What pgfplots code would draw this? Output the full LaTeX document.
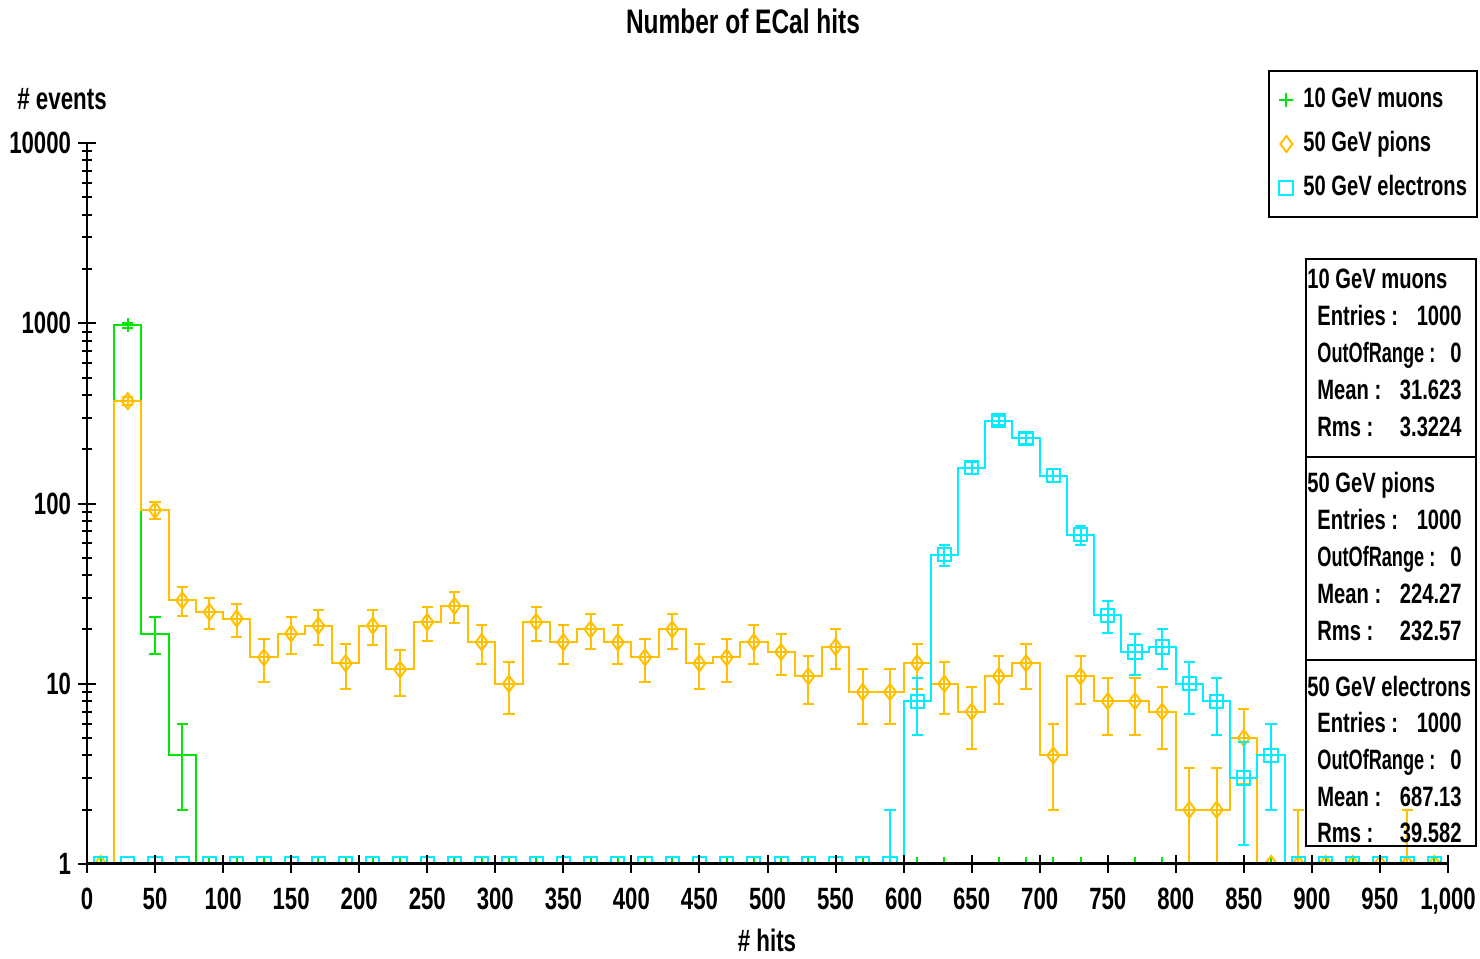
\documentclass[border=0pt]{standalone}
\usepackage{graphicx}
\usepackage{pgfplots}
\pgfplotsset{compat=1.18}
\usepackage{pgfplotstable}
\usepackage{fontspec}
\setmainfont{Liberation Sans}[FakeStretch=0.72]

\definecolor{mugreen}{RGB}{0,230,0}
\definecolor{piorange}{RGB}{255,192,0}
\definecolor{ecyan}{RGB}{0,238,255}

\newcommand\tickfont{\fontsize{15.4}{17}\selectfont\bfseries}
\newcommand\titlefont{\fontsize{17}{19}\selectfont\bfseries}
\newcommand\labfont{\fontsize{15.5}{17}\selectfont\bfseries}
\newcommand\legfont{\fontsize{14}{16}\selectfont\bfseries}

\pgfplotstableread{
x n
10 0
30 977
50 19
70 4
90 0
110 0
130 0
150 0
170 0
190 0
210 0
230 0
250 0
270 0
290 0
310 0
330 0
350 0
370 0
390 0
410 0
430 0
450 0
470 0
490 0
510 0
530 0
550 0
570 0
590 0
610 0
630 0
650 0
670 0
690 0
710 0
730 0
750 0
770 0
790 0
810 0
830 0
850 0
870 0
890 0
910 0
930 0
950 0
970 0
990 0
}\muons

\pgfplotstableread{
x n
10 0
30 370
50 92
70 29
90 25
110 23
130 14
150 19
170 21
190 13
210 21
230 12
250 22
270 27
290 17
310 10
330 22
350 17
370 20
390 17
410 14
430 20
450 13
470 14
490 17
510 15
530 11
550 16
570 9
590 9
610 13
630 10
650 7
670 11
690 13
710 4
730 11
750 8
770 8
790 7
810 2
830 2
850 5
870 0
890 1
910 0
930 0
950 0
970 1
990 0
}\pions

\pgfplotstableread{
x n
10 0
30 0
50 0
70 0
90 0
110 0
130 0
150 0
170 0
190 0
210 0
230 0
250 0
270 0
290 0
310 0
330 0
350 0
370 0
390 0
410 0
430 0
450 0
470 0
490 0
510 0
530 0
550 0
570 0
590 1
610 8
630 52
650 158
670 288
690 230
710 143
730 67
750 24
770 15
790 16
810 10
830 8
850 3
870 4
890 0
910 0
930 0
950 0
970 0
990 0
}\electrons

\pgfplotsset{
  steps/.style={forget plot, line width=1pt, const plot mark mid},
  pts/.style={forget plot, line width=1pt, only marks,
    error bars/y dir=both, error bars/y explicit,
    error bars/error bar style={line width=1pt},
    error bars/error mark options={rotate=90, mark size=2.8pt, line width=1pt}},
  zeros/.style={forget plot, line width=1pt, only marks},
}

\begin{document}
\begin{tikzpicture}
\useasboundingbox (0,0) rectangle (740pt,479.5pt);
\begin{axis}[
  at={(43.5pt,47.5pt)}, anchor=south west,
  scale only axis, width=680.5pt, height=360.5pt,
  xmin=0, xmax=1000, ymin=1, ymax=10000, ymode=log,
  axis x line*=bottom, axis y line*=left,
  x axis line style={line width=1.5pt},
  y axis line style={line width=1pt},
  axis on top,
  clip marker paths=true,
  xtick={0,50,...,1000},
  xticklabels={0,50,100,150,200,250,300,350,400,450,500,550,600,650,700,750,800,850,900,950,{1,000}},
  ytick={1,10,100,1000,10000},
  yticklabels={1,10,100,1000,10000},
  minor ytick={2,3,4,5,6,7,8,9,20,30,40,50,60,70,80,90,200,300,400,500,600,700,800,900,2000,3000,4000,5000,6000,7000,8000,9000},
  tick align=center,
  major tick length=9pt, minor tick length=5pt,
  major tick style={line width=1pt, black},
  minor tick style={line width=1pt, black},
  xticklabel style={font=\tickfont, yshift=-4pt},
  yticklabel style={font=\tickfont},
  legend cell align=left,
  legend image code/.code={\draw[mark repeat=2,mark phase=2,#1] plot coordinates {(0pt,0pt) (8pt,0pt) (16pt,0pt)};},
  legend style={at={(1.02204,1.10125)}, anchor=north east, draw=black, line width=1pt,
    font=\legfont, inner xsep=5pt, inner ysep=8pt, row sep=9pt, column sep=5pt,
    nodes={inner sep=0pt, text height=10pt, text depth=3pt}},
]
\addlegendimage{only marks, mark=+, mugreen, mark size=3.5pt, line width=1pt}
\addlegendentry{10 GeV muons}
\addlegendimage{only marks, mark=diamond, piorange, mark size=4pt, line width=1pt}
\addlegendentry{50 GeV pions}
\addlegendimage{only marks, mark=square, ecyan, mark size=3.5pt, line width=1pt}
\addlegendentry{50 GeV electrons}

% muons
\addplot[steps, mugreen] table[x=x, y expr={max(\thisrow{n},0.5)}] {\muons};
\addplot[pts, mugreen, mark=+, mark size=3.5pt] table[x=x, y expr={\thisrow{n}>0 ? \thisrow{n} : nan},
  y error plus expr={sqrt(\thisrow{n})}, y error minus expr={\thisrow{n}>1 ? sqrt(\thisrow{n}) : 0}] {\muons};
\addplot[zeros, mugreen, mark=+, mark size=3.5pt] table[x=x, y expr={\thisrow{n}==0 ? 1 : nan}] {\muons};

% pions
\addplot[steps, piorange] table[x=x, y expr={max(\thisrow{n},0.5)}] {\pions};
\addplot[pts, piorange, mark=diamond, mark size=4pt] table[x=x, y expr={\thisrow{n}>0 ? \thisrow{n} : nan},
  y error plus expr={sqrt(\thisrow{n})}, y error minus expr={\thisrow{n}>1 ? sqrt(\thisrow{n}) : 0}] {\pions};
\addplot[zeros, piorange, mark=diamond, mark size=4pt] table[x=x, y expr={\thisrow{n}==0 ? 1 : nan}] {\pions};

% electrons
\addplot[steps, ecyan] table[x=x, y expr={max(\thisrow{n},0.5)}] {\electrons};
\addplot[pts, ecyan, mark=square, mark size=3.3pt] table[x=x, y expr={\thisrow{n}>0 ? \thisrow{n} : nan},
  y error plus expr={sqrt(\thisrow{n})}, y error minus expr={\thisrow{n}>1 ? sqrt(\thisrow{n}) : 0}] {\electrons};
\addplot[zeros, ecyan, mark=square, mark size=3.3pt] table[x=x, y expr={\thisrow{n}==0 ? 1 : nan}] {\electrons};
\end{axis}

\begin{scope}[x=0.5pt, y=-0.5pt, shift={(0pt,479.5pt)}]
  \node[anchor=base, font=\titlefont, inner sep=0pt] at (743,34) {Number of ECal hits};
  \node[anchor=base west, font=\labfont, inner sep=0pt] at (17,110) {\# events};
  \node[anchor=base, font=\labfont, inner sep=0pt] at (767,952) {\# hits};
  % stats boxes
  \draw[line width=1pt] (1306,259) rectangle (1476,457);
  \draw[line width=1pt] (1306,457) rectangle (1476,660);
  \draw[line width=1pt] (1306,660) rectangle (1476,846);
  \begin{scope}[every node/.style={font=\legfont, inner sep=0pt}]
    % box 1
    \node[anchor=base west] at (1307,289) {10 GeV muons};
    \node[anchor=base west] at (1317,326) {Entries :};
    \node[anchor=base east] at (1462,326) {1000};
    \node[anchor=base west] at (1317,363) {\scalebox{0.9}[1]{OutOfRange :}};
    \node[anchor=base east] at (1462,363) {0};
    \node[anchor=base west] at (1317,400) {Mean :};
    \node[anchor=base east] at (1462,400) {31.623};
    \node[anchor=base west] at (1317,437) {Rms :};
    \node[anchor=base east] at (1462,437) {3.3224};
    % box 2
    \node[anchor=base west] at (1307,493) {50 GeV pions};
    \node[anchor=base west] at (1317,530) {Entries :};
    \node[anchor=base east] at (1462,530) {1000};
    \node[anchor=base west] at (1317,567) {\scalebox{0.9}[1]{OutOfRange :}};
    \node[anchor=base east] at (1462,567) {0};
    \node[anchor=base west] at (1317,604) {Mean :};
    \node[anchor=base east] at (1462,604) {224.27};
    \node[anchor=base west] at (1317,641) {Rms :};
    \node[anchor=base east] at (1462,641) {232.57};
    % box 3
    \node[anchor=base west] at (1307,697) {50 GeV electrons};
    \node[anchor=base west] at (1317,733) {Entries :};
    \node[anchor=base east] at (1462,733) {1000};
    \node[anchor=base west] at (1317,770) {\scalebox{0.9}[1]{OutOfRange :}};
    \node[anchor=base east] at (1462,770) {0};
    \node[anchor=base west] at (1317,807) {Mean :};
    \node[anchor=base east] at (1462,807) {687.13};
    \node[anchor=base west] at (1317,843) {Rms :};
    \node[anchor=base east] at (1462,843) {39.582};
  \end{scope}
\end{scope}
\end{tikzpicture}
\end{document}
